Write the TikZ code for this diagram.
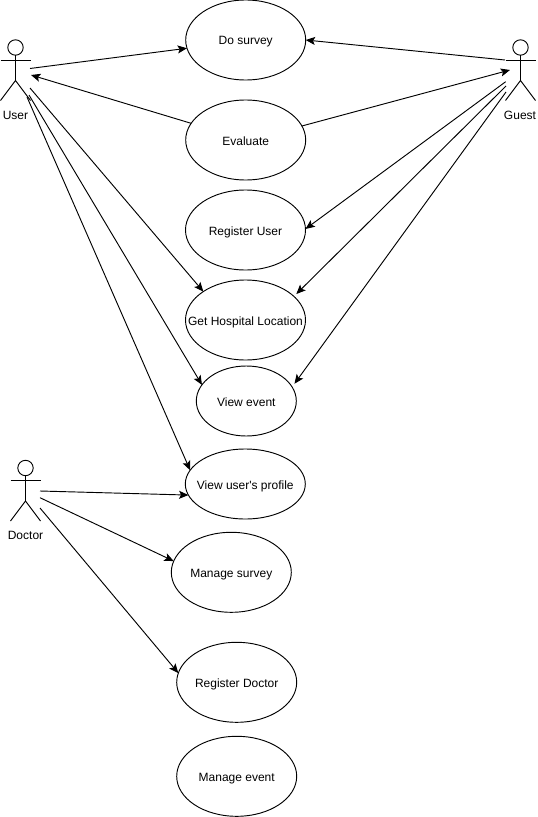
\documentclass[tikz,border=0pt]{standalone}
\usepackage{fontspec}
\setmainfont[Ligatures=TeXOff]{Liberation Sans}
\usepackage{tikz}
\usetikzlibrary{arrows.meta,shapes.geometric}

\newcommand{\uctext}[1]{\makebox[0pt]{\raisebox{-3.75pt}[0pt][0pt]{#1}}}

\begin{document}
\begin{tikzpicture}[
    x=0.75pt, y=-0.75pt,
    font=\fontsize{9pt}{11pt}\selectfont,
    line width=0.7pt,
    usecase/.style={draw, ellipse, inner sep=0pt, outer sep=0pt, minimum width=90pt, minimum height=60pt},
    edge/.style={-{Stealth[length=7pt, width=6pt, inset=1.5pt]}},
    actor/.pic={
        \draw (0,0) circle [radius=7.7];
        \draw (0,7.7) -- (0,33);
        \draw (-15,12.5) -- (15,12.5);
        \draw (-15,53) -- (0,33) -- (15,53);
    }
]
\path[fill=white, use as bounding box] (0,0) rectangle (537,817);

\pic at (15.5,47.5) {actor};
\pic at (520.5,47.5) {actor};
\pic at (25.5,468) {actor};
\node (userlabel) at (15.5,114) {\uctext{User}};
\node (guestlabel) at (520,114) {\uctext{Guest}};
\node (doctorlabel) at (25.5,534) {\uctext{Doctor}};

\node[usecase] (survey) at (245.7,40) {\uctext{Do survey}};
\node[usecase] (evaluate) at (245.7,140) {\uctext{Evaluate}};
\node[usecase] (registeruser) at (245.5,230) {\uctext{Register User}};
\node[usecase] (hospital) at (245.5,320) {\uctext{Get Hospital Location}};
\node[usecase, minimum width=75pt, minimum height=52.5pt] (viewevent) at (246.3,401) {\uctext{View event}};
\node[usecase, minimum height=52.5pt] (profile) at (245.3,484) {\uctext{View user's profile}};
\node[usecase] (managesurvey) at (231.3,572.3) {\uctext{Manage survey}};
\node[usecase] (registerdoctor) at (236.7,682.3) {\uctext{Register Doctor}};
\node[usecase] (manageevent) at (236.7,776.3) {\uctext{Manage event}};

% free ends next to the actors
\coordinate (usera) at (30,68.5);
\coordinate (userb) at (31,75);
\coordinate (userc) at (30,88);
\coordinate (userd) at (29,95);
\coordinate (usere) at (27,97);
\coordinate (guesta) at (505,60);
\coordinate (guestb) at (510,70);
\coordinate (guestc) at (505.7,81.7);
\coordinate (guestd) at (506,86);
\coordinate (gueste) at (506,92);
\coordinate (doctora) at (40,491);
\coordinate (doctorb) at (40,497.7);
\coordinate (doctorc) at (40,508);

\draw[edge] (usera) -- (survey.188);
\draw[edge] (evaluate.163) -- (userb);
\draw[edge] (userc) -- (hospital.146);
\draw[edge] (userd) -- (viewevent.160);
\draw[edge] (usere) -- (profile.166);
\draw[edge] (guesta) -- (survey.east);
\draw[edge] (evaluate.14) -- (guestb);
\draw[edge] (guestc) -- (registeruser.1);
\draw[edge, shorten >=2.5pt] (guestd) -- (hospital.26);
\draw[edge, shorten >=3pt] (gueste) -- (viewevent.17);
\draw[edge] (doctora) -- (profile.191);
\draw[edge] (doctorb) -- (managesurvey.169);
\draw[edge] (doctorc) -- (registerdoctor.171);
\end{tikzpicture}
\end{document}
